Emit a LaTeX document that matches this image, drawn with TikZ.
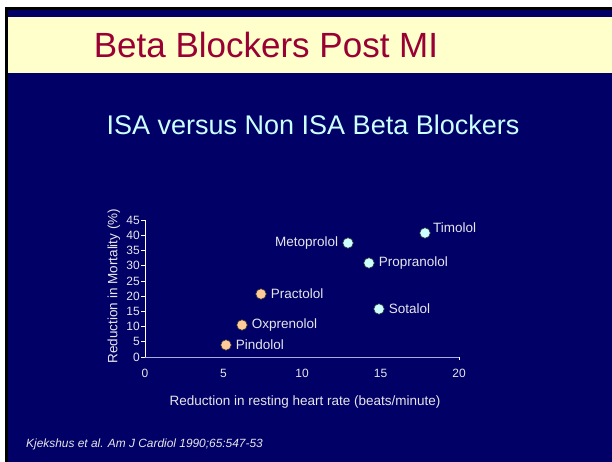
\documentclass[tikz,border=0pt]{standalone}
\usepackage{fontspec}
\setmainfont{Liberation Sans}
\definecolor{navy}{RGB}{0,0,102}
\definecolor{cream}{RGB}{255,255,204}
\definecolor{titlered}{RGB}{153,0,51}
\definecolor{paleblue}{RGB}{204,255,255}
\definecolor{peach}{RGB}{255,204,153}
\definecolor{lbl}{RGB}{230,230,235}
\definecolor{xaxis}{RGB}{170,170,220}
\tikzset{
  isa/.style={circle,draw=black!80,line width=0.6pt,fill=peach,minimum size=10.5pt,inner sep=0pt},
  nonisa/.style={circle,draw=black!80,line width=0.6pt,fill=paleblue,minimum size=10.5pt,inner sep=0pt},
  dlabel/.style={text=lbl,font=\fontsize{13.5}{15}\selectfont,inner sep=1pt},
  ticklabel/.style={text=lbl,font=\fontsize{12}{13}\selectfont,inner sep=1pt},
  axtitle/.style={text=lbl,font=\fontsize{13.5}{15}\selectfont,inner sep=0pt}
}
\begin{document}
\begin{tikzpicture}[x=1pt,y=-1pt]
\useasboundingbox (0,0) rectangle (612,462);
\fill[white] (0,0) rectangle (612,462);
\fill[black] (5,7) rectangle (612,462);
\fill[navy] (8,10) rectangle (612,462);
\fill[cream] (8,17) rectangle (612,73);
\node[text=titlered,font=\fontsize{35}{40}\selectfont,inner sep=0pt] (title) at (266,45) {Beta Blockers Post MI};
\node[text=paleblue,font=\fontsize{27}{31}\selectfont,inner sep=0pt] (subtitle) at (313,125) {ISA versus Non ISA Beta Blockers};
% axes
\coordinate (origin) at (145,357);
\coordinate (ytop) at (145,220);
\coordinate (xend) at (459,357);
\draw[xaxis,line width=0.8pt] (origin) -- (xend);
\draw[white,line width=0.8pt] (origin) -- (ytop);
\draw[white,line width=0.6pt] (xend) -- ++(0,3);
\foreach \v in {0,5,...,45}{
  \pgfmathsetmacro{\yy}{357-3.044*\v}
  \coordinate (yt\v) at (145,\yy);
  \draw[white,line width=0.6pt] (yt\v) -- ++(-4,0);
  \node[ticklabel,anchor=east] (yl\v) at (141,\yy) {\v};
}
\foreach \v in {0,5,10,15,20}{
  \pgfmathsetmacro{\xx}{145+15.7*\v}
  \node[ticklabel] (xl\v) at (\xx,373) {\v};
}
\node[axtitle] (xtitle) at (305,402) {Reduction in resting heart rate (beats/minute)};
\node[axtitle,rotate=90] (ytitle) at (114,286) {Reduction in Mortality (\%)};
% data
\node[isa] (pin) at (226,345) {};
\node[dlabel,anchor=west] at ([xshift=3pt]pin.east) {Pindolol};
\node[isa] (oxp) at (242,325) {};
\node[dlabel,anchor=west] at ([xshift=3pt]oxp.east) {Oxprenolol};
\node[isa] (pra) at (261,294) {};
\node[dlabel,anchor=west] at ([xshift=3pt]pra.east) {Practolol};
\node[nonisa] (met) at (348,243) {};
\node[dlabel,anchor=east] at ([xshift=-3pt]met.west) {Metoprolol};
\node[nonisa] (pro) at (369,263) {};
\node[dlabel,anchor=west] at ([xshift=3pt]pro.east) {Propranolol};
\node[nonisa] (tim) at (425,233) {};
\node[dlabel,anchor=west] at (432,228) {Timolol};
\node[nonisa] (sot) at (379,309) {};
\node[dlabel,anchor=west] at ([xshift=3pt]sot.east) {Sotalol};
\node[text=lbl,font=\itshape\fontsize{11.9}{13}\selectfont,anchor=west,inner sep=0pt] (ref) at (26,444) {Kjekshus et al. Am J Cardiol 1990;65:547-53};
\end{tikzpicture}
\end{document}
